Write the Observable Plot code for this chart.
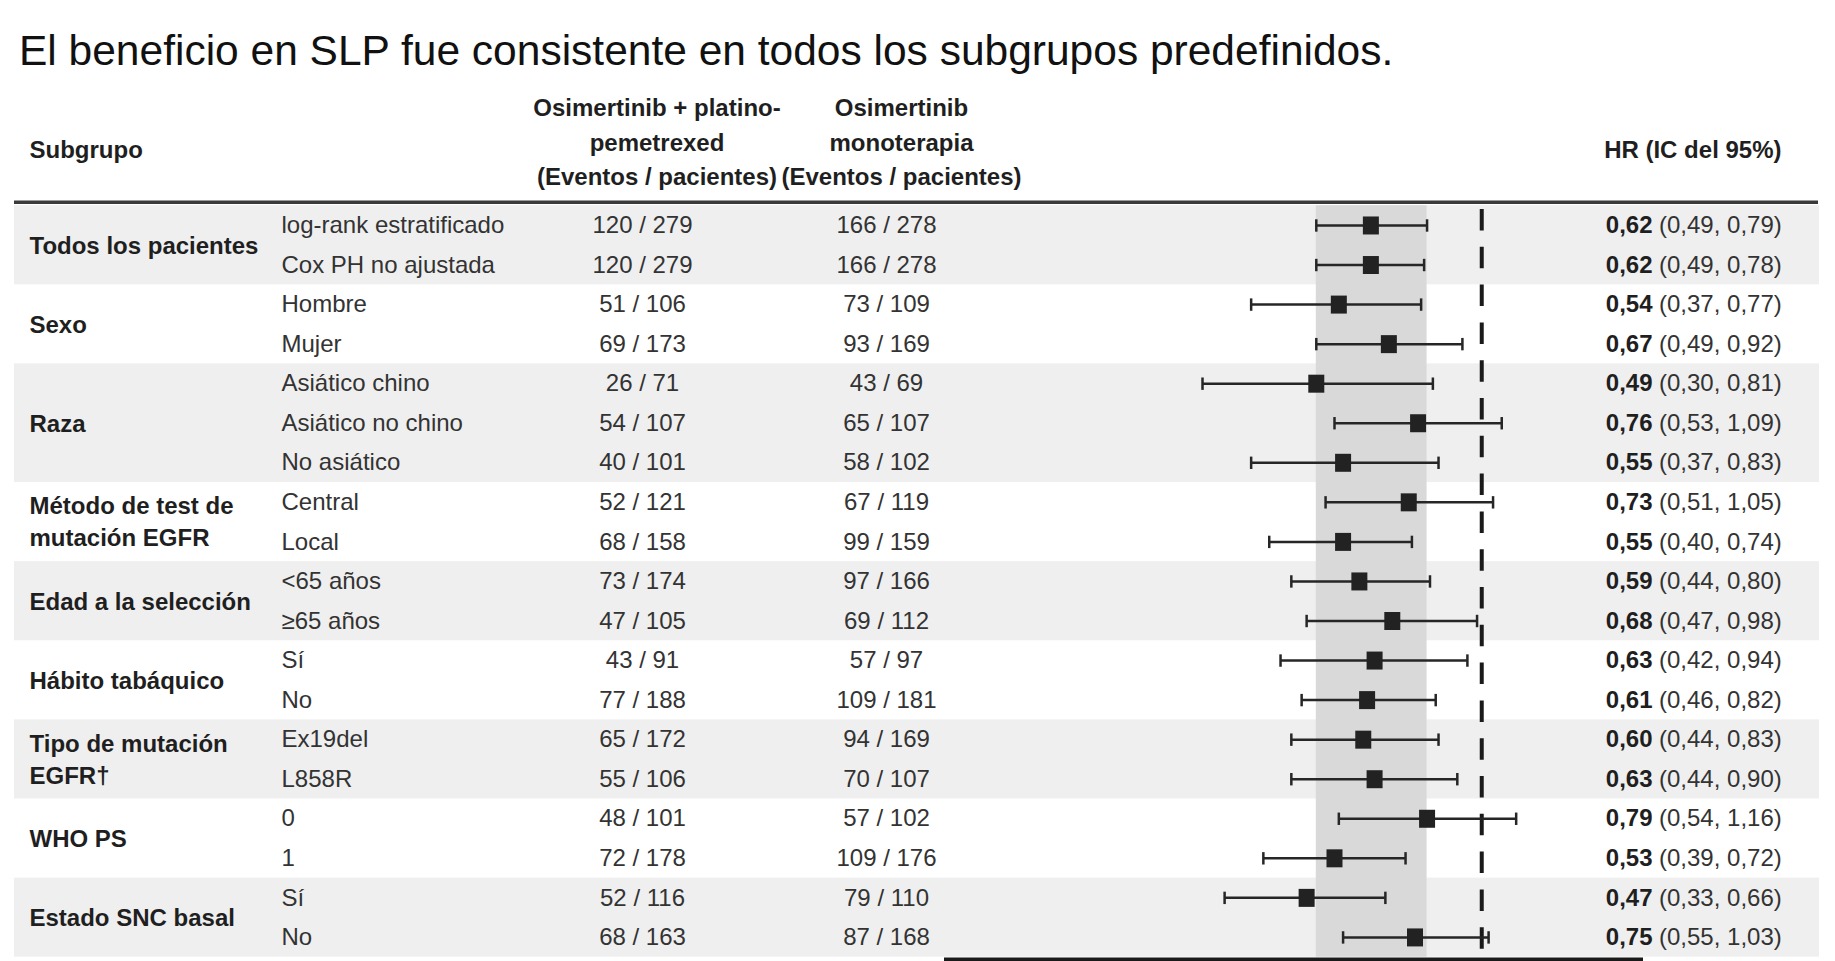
<!DOCTYPE html>
<html>
<head>
<meta charset="utf-8">
<script src="https://cdn.jsdelivr.net/npm/d3@7"></script>
<script src="https://cdn.jsdelivr.net/npm/@observablehq/plot@0.6"></script>
<style>
  html, body { margin: 0; padding: 0; background: #fff; }
  body { width: 1835px; height: 961px; overflow: hidden; font-family: "Liberation Sans", Arial, sans-serif; }
  #title { box-sizing: border-box; height: 80px; padding: 30px 0 0 19px; font-size: 42.5px; line-height: 1; color: #111; white-space: nowrap; }
  #chart svg { display: block; }
</style>
</head>
<body>
<div id="title">El beneficio en SLP fue consistente en todos los subgrupos predefinidos.</div>
<div id="chart"></div>
<script>
// Subgroup definitions: label and number of rows each one spans
const groups = [
  "Todos los pacientes", "Sexo", "Raza", "Método de test de\nmutación EGFR",
  "Edad a la selección", "Hábito tabáquico", "Tipo de mutación\nEGFR†", "WHO PS", "Estado SNC basal"
];
const groupSizes = [2, 2, 3, 2, 2, 2, 2, 2, 2];

// One entry per row
const subgroups = [
  "log-rank estratificado", "Cox PH no ajustada", "Hombre", "Mujer",
  "Asiático chino", "Asiático no chino", "No asiático", "Central", "Local",
  "<65 años", "≥65 años", "Sí", "No", "Ex19del", "L858R", "0", "1", "Sí", "No"
];
const comboCounts = [
  "120 / 279", "120 / 279", "51 / 106", "69 / 173", "26 / 71", "54 / 107", "40 / 101",
  "52 / 121", "68 / 158", "73 / 174", "47 / 105", "43 / 91", "77 / 188",
  "65 / 172", "55 / 106", "48 / 101", "72 / 178", "52 / 116", "68 / 163"
];
const monoCounts = [
  "166 / 278", "166 / 278", "73 / 109", "93 / 169", "43 / 69", "65 / 107", "58 / 102",
  "67 / 119", "99 / 159", "97 / 166", "69 / 112", "57 / 97", "109 / 181",
  "94 / 169", "70 / 107", "57 / 102", "109 / 176", "79 / 110", "87 / 168"
];
const hr    = [0.62, 0.62, 0.54, 0.67, 0.49, 0.76, 0.55, 0.73, 0.55, 0.59, 0.68, 0.63, 0.61, 0.60, 0.63, 0.79, 0.53, 0.47, 0.75];
const lower = [0.49, 0.49, 0.37, 0.49, 0.30, 0.53, 0.37, 0.51, 0.40, 0.44, 0.47, 0.42, 0.46, 0.44, 0.44, 0.54, 0.39, 0.33, 0.55];
const upper = [0.79, 0.78, 0.77, 0.92, 0.81, 1.09, 0.83, 1.05, 0.74, 0.80, 0.98, 0.94, 0.82, 0.83, 0.90, 1.16, 0.72, 0.66, 1.03];

const headers = {
  subgroup: "Subgrupo",
  combo: "Osimertinib + platino-\npemetrexed\n(Eventos / pacientes)",
  mono: "Osimertinib\nmonoterapia\n(Eventos / pacientes)",
  hr: "HR (IC del 95%)"
};

const fmt = v => v.toFixed(2).replace(".", ",");

const rows = subgroups.map((s, i) => ({
  i, sub: s, combo: comboCounts[i], mono: monoCounts[i],
  hr: hr[i], lo: lower[i], hi: upper[i],
  hrText: fmt(hr[i]), ciText: `(${fmt(lower[i])}, ${fmt(upper[i])})`
}));

// Group blocks: first/last row, alternate shading
let start = 0;
const blocks = groups.map((g, k) => {
  const b = {label: g, first: start, last: start + groupSizes[k] - 1, shaded: k % 2 === 0};
  start += groupSizes[k];
  return b;
});

// Overall HR confidence interval (reference band behind the forest plot)
const overall = [{lo: rows[0].lo, hi: rows[0].hi}];

// Custom glyphs
const squareSym = {draw(ctx) { ctx.rect(-8, -9, 16, 18); }};
const capSym = {draw(ctx) { ctx.moveTo(0, -6.2); ctx.lineTo(0, 6.2); }};

const W = 1835, H = 881;
const mL = 1186, mR = 302, mT = 125.2, mB = 4.3;
const FONT = 24;
const dark = "#1f1f1f", body = "#333";

// helpers for table columns placed relative to the plot frame
const leftX = px => px - mL;            // dx from frame left
const rightX = px => px - (W - mR);     // dx from frame right

const chart = Plot.plot({
  width: W,
  height: H,
  marginLeft: mL,
  marginRight: mR,
  marginTop: mT,
  marginBottom: mB,
  style: {fontFamily: '"Liberation Sans", Arial, sans-serif', fontSize: FONT + "px", overflow: "visible"},
  x: {type: "log", domain: [0.28, 1.25], axis: null},
  y: {domain: [-0.5, 18.5], reverse: true, axis: null},
  marks: [
    // shaded group bands across the whole table
    Plot.rect(blocks.filter(b => b.shaded), {
      y1: b => b.first - 0.5, y2: b => b.last + 0.5,
      fill: "#efefef", insetLeft: -(mL - 14), insetRight: -(1819 - (W - mR))
    }),
    // overall CI band
    Plot.rect(overall, {x1: "lo", x2: "hi", fill: "#d9d9d9"}),
    // header rule
    Plot.ruleY([-0.5], {stroke: "#3a3a3a", strokeWidth: 3.5, dy: -3.5,
      insetLeft: -(mL - 14), insetRight: -(1818 - (W - mR))}),
    // line of no effect
    Plot.ruleX([1], {stroke: "#1a1a1a", strokeWidth: 4, strokeDasharray: "21.5,16.3", insetTop: 3.8, insetBottom: 5}),
    // whiskers and caps
    Plot.ruleY(rows, {y: "i", x1: "lo", x2: "hi", stroke: "#262626", strokeWidth: 2.5}),
    Plot.dot(rows, {x: "lo", y: "i", symbol: capSym, stroke: "#262626", strokeWidth: 2.5, fill: "none", r: 6}),
    Plot.dot(rows, {x: "hi", y: "i", symbol: capSym, stroke: "#262626", strokeWidth: 2.5, fill: "none", r: 6}),
    // point estimates
    Plot.dot(rows, {x: "hr", y: "i", symbol: squareSym, fill: "#222", stroke: "none", r: 8}),
    // bottom axis line
    Plot.ruleY([18.5], {stroke: "#1a1a1a", strokeWidth: 7, dy: 3.8,
      insetLeft: -(mL - 944), insetRight: -(1643 - (W - mR))}),

    // group labels
    Plot.text(blocks, {
      y: b => (b.first + b.last) / 2, text: "label", frameAnchor: "left", dx: leftX(29), dy: -2,
      textAnchor: "start", fontWeight: "bold", fill: dark, lineHeight: 1.34
    }),
    // subgroup labels
    Plot.text(rows, {y: "i", text: "sub", frameAnchor: "left", dx: leftX(281), textAnchor: "start", fill: body}),
    // event counts
    Plot.text(rows, {y: "i", text: "combo", frameAnchor: "left", dx: leftX(642), textAnchor: "middle", fill: body}),
    Plot.text(rows, {y: "i", text: "mono", frameAnchor: "left", dx: leftX(886), textAnchor: "middle", fill: body}),
    // HR (95% CI)
    Plot.text(rows, {y: "i", text: "hrText", frameAnchor: "right", dx: rightX(1652), textAnchor: "end", fontWeight: "bold", fill: dark}),
    Plot.text(rows, {y: "i", text: "ciText", frameAnchor: "right", dx: rightX(1658.5), textAnchor: "start", fill: body}),

    // column headers
    Plot.text([headers.subgroup], {text: d => d, frameAnchor: "top-left", dx: leftX(29), dy: 70 - mT,
      textAnchor: "start", lineAnchor: "middle", fontWeight: "bold", fill: dark}),
    Plot.text([headers.combo], {text: d => d, frameAnchor: "top-left", dx: leftX(656.5), dy: 59 - mT,
      textAnchor: "middle", lineAnchor: "middle", lineHeight: 1.44, fontWeight: "bold", fill: dark}),
    Plot.text([headers.mono], {text: d => d, frameAnchor: "top-left", dx: leftX(901), dy: 59 - mT,
      textAnchor: "middle", lineAnchor: "middle", lineHeight: 1.44, fontWeight: "bold", fill: dark}),
    Plot.text([headers.hr], {text: d => d, frameAnchor: "top-right", dx: rightX(1781), dy: 70 - mT,
      textAnchor: "end", lineAnchor: "middle", fontWeight: "bold", fill: dark})
  ]
});

document.getElementById("chart").append(chart);
</script>
</body>
</html>
